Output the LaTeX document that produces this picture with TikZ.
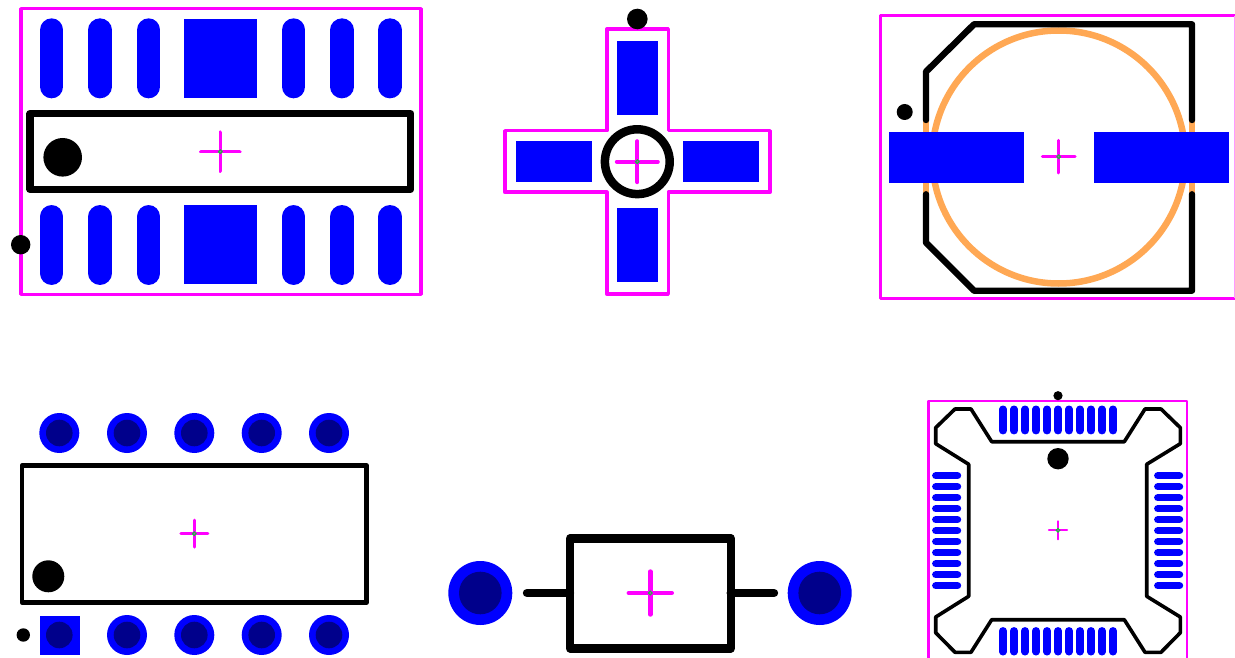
\documentclass[tikz,border=0pt]{standalone}
\definecolor{padblue}{RGB}{0,0,255}
\definecolor{drillnavy}{RGB}{0,0,139}
\definecolor{courtpink}{RGB}{255,0,255}
\definecolor{bodyorange}{RGB}{255,168,84}
\definecolor{origingreen}{RGB}{30,190,60}
\tikzset{
    padfill/.style={fill=padblue},
    drillfill/.style={fill=drillnavy},
    courtline/.style={draw=courtpink, line join=round},
    silkline/.style={draw=black, line join=round, line cap=round},
    oblong/.style={draw=padblue, line cap=round},
    originline/.style={draw=courtpink, line cap=round},
}
% center mark: x, y, half length, line width
\newcommand{\OriginMark}[4]{
    \draw[originline, line width=#4] (#1-#3, #2) -- (#1+#3, #2);
    \draw[originline, line width=#4] (#1, #2-#3) -- (#1, #2+#3);
    \draw[origingreen, line width=1.2] (#1, #2) circle (1.8);
}
% through-hole pad: x, y, outer radius, drill radius
\newcommand{\ViaPad}[4]{
    \fill[padfill] (#1, #2) circle (#3);
    \fill[drillfill] (#1, #2) circle (#4);
}
\begin{document}
\begin{tikzpicture}[x=1pt, y=-1pt]
    \useasboundingbox (0, 0) rectangle (1235, 658);

    % top left: long package
    \draw[courtline, line width=3.6] (20.7, 8.7) rectangle (421, 294.3);
    \foreach \x in {51.7, 100, 148.7, 293.7, 342, 390} {
        \draw[oblong, line width=23.3] (\x, 30) -- (\x, 86.7);
        \draw[oblong, line width=23.3] (\x, 216.7) -- (\x, 273.3);
    }
    \fill[padfill] (184, 19.3) rectangle (257, 98.3);
    \fill[padfill] (184, 205.3) rectangle (257, 284);
    \draw[silkline, line width=7.4] (30, 113.7) rectangle (410.7, 189.3);
    \fill (62.7, 157.3) circle (19.3);
    \fill (20.7, 244.7) circle (9.7);
    \OriginMark{220.3}{151.7}{19.5}{3.6}

    % top middle: cross package
    \draw[courtline, line width=3.6] (606.7, 29.3) -- (668.3, 29.3) -- (668.3, 130.7)
        -- (770, 130.7) -- (770, 192.3) -- (668.3, 192.3) -- (668.3, 294)
        -- (606.7, 294) -- (606.7, 192.3) -- (504.7, 192.3) -- (504.7, 130.7)
        -- (606.7, 130.7) -- cycle;
    \fill[padfill] (617, 41.3) rectangle (658.3, 115);
    \fill[padfill] (617, 208.3) rectangle (658.3, 282.3);
    \fill[padfill] (516.3, 141.3) rectangle (591.7, 182);
    \fill[padfill] (683.3, 141.3) rectangle (758.7, 182);
    \draw[line width=8.5] (637.3, 161.7) circle (32.4);
    \fill (637.3, 19) circle (10.3);
    \OriginMark{637.3}{161.7}{20.5}{4}

    % top right: round can
    \draw[courtline, line width=3] (1235, 16) -- (880.7, 16) -- (880.7, 298.3) -- (1235, 298.3);
    \draw[courtpink!40, line width=1] (1234.5, 16) -- (1234.5, 298.3);
    \draw[bodyorange, line width=6.5] (1058.7, 157) circle (126.5);
    \foreach \x in {926, 1192} {
        \draw[bodyorange, line width=6] (\x, 120) -- (\x, 194.3);
    }
    \draw[silkline, line width=6.4] (926, 120) -- (926, 71.7) -- (974, 24.3) -- (1192, 24.3) -- (1192, 120);
    \draw[silkline, line width=6.4] (926, 194.3) -- (926, 242.7) -- (974, 290.7) -- (1192, 290.7) -- (1192, 194.3);
    \fill[padfill] (888.7, 132) rectangle (1023.7, 183.3);
    \fill[padfill] (1093.7, 132) rectangle (1229, 183.3);
    \fill (904.7, 112) circle (8);
    \OriginMark{1058.7}{156.7}{16.3}{3}

    % bottom left: dual in line
    \foreach \x in {59.3, 127, 194.3, 261.7, 329} {
        \ViaPad{\x}{433}{20}{13.3}
    }
    \foreach \x in {127, 194.3, 261.7, 329} {
        \ViaPad{\x}{635}{20}{13.3}
    }
    \fill[padfill] (39.5, 615.5) rectangle (79.5, 654.5);
    \fill[drillfill] (59.3, 635) circle (13.3);
    \draw[silkline, line width=4.8] (22, 465.7) rectangle (366.7, 602.3);
    \fill (48.3, 576.3) circle (16);
    \fill (23.3, 635) circle (6.7);
    \OriginMark{194.3}{533.7}{13.5}{3}

    % bottom middle: axial part
    \ViaPad{480.3}{593}{32}{21.3}
    \ViaPad{819.7}{593}{32}{21.3}
    \draw[silkline, line width=8.4] (570, 538.3) rectangle (730.7, 648.3);
    \draw[silkline, line width=8.4] (527, 593) -- (570, 593);
    \draw[silkline, line width=8.4] (730.7, 593) -- (774, 593);
    \OriginMark{650.3}{593}{21.5}{4.4}

    % bottom right: quad package
    \draw[courtline, line width=2.4] (928.3, 660) -- (928.3, 401) -- (1187, 401) -- (1187, 660);
    \draw[silkline, line width=3.6] (955, 409) -- (971, 409) -- (991.7, 441.7) -- (1124.3, 441.7)
        -- (1145, 409) -- (1161, 409) -- (1180.3, 427.7) -- (1180.3, 443.7) -- (1146.7, 464.3)
        -- (1146.7, 596.3) -- (1180.3, 617) -- (1180.3, 632.7) -- (1161, 652.3) -- (1145, 652.3)
        -- (1124.3, 619.7) -- (991.7, 619.7) -- (971, 652.3) -- (955, 652.3) -- (935.7, 632.7)
        -- (935.7, 617) -- (968.7, 596.3) -- (968.7, 464.3) -- (935.7, 443.7) -- (935.7, 427.7)
        -- cycle;
    \foreach \k in {-5, ..., 5} {
        \draw[oblong, line width=7.4] (1058+\k*11, 409.2) -- (1058+\k*11, 430.7);
        \draw[oblong, line width=7.4] (1058+\k*11, 630.8) -- (1058+\k*11, 651.8);
        \draw[oblong, line width=7.4] (935.8, 530.7+\k*11) -- (957.5, 530.7+\k*11);
        \draw[oblong, line width=7.4] (1157.8, 530.7+\k*11) -- (1179.5, 530.7+\k*11);
    }
    \fill (1058, 395.7) circle (4.6);
    \fill (1058, 458.7) circle (10.7);
    \OriginMark{1058}{530.3}{9}{2.2}
\end{tikzpicture}
\end{document}
